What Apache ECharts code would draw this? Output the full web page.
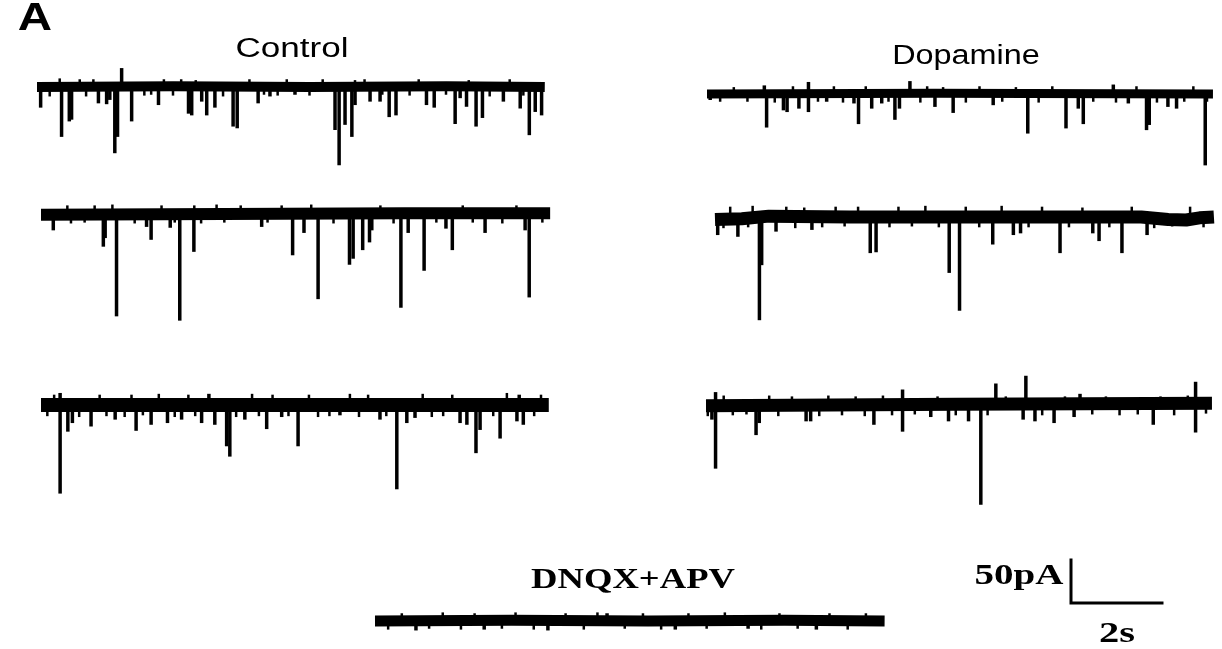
<!DOCTYPE html>
<html><head><meta charset="utf-8">
<script src="https://cdn.jsdelivr.net/npm/echarts@6/dist/echarts.min.js"></script>
<style>html,body{margin:0;padding:0;background:#fff}#c{width:1222px;height:649px}</style>
</head><body><div id="c"></div>
<script>
// ---- DATA: events are [time (s), peak current (pA) relative to baseline] ----
const control1Events = [[0.08,-24],[0.54,-58],[0.71,-40],[0.76,-38],[1.35,-19],[1.53,-20],[1.60,-15],[1.71,-77],[1.77,-58],[1.86,22],[2.08,-40],[2.67,-21],[3.33,-31],[3.40,-33],[3.62,-17],[3.73,-33],[3.91,-24],[4.31,-46],[4.40,-48],[4.86,-19],[5.12,-11],[5.67,-9],[6.55,-50],[6.64,-91],[6.77,-44],[6.92,-58],[6.99,-21],[7.32,-17],[7.54,-17],[7.74,-35],[7.89,-33],[8.56,-21],[8.73,-24],[9.19,-43],[9.30,-13],[9.44,-23],[9.65,-46],[9.79,-36],[10.25,-17],[10.62,-25],[10.82,-56],[10.95,-29],[11.09,-33]];
const control2Events = [[0.27,-19],[1.37,-38],[1.41,-28],[1.66,-119],[2.32,-15],[2.42,-30],[2.84,-16],[3.05,-124],[3.36,-44],[4.85,-15],[5.53,-48],[5.78,-22],[6.09,-99],[6.78,-59],[6.86,-52],[7.07,-42],[7.22,-33],[7.27,-19],[7.91,-109],[8.07,-22],[8.42,-66],[8.90,-17],[9.04,-42],[9.76,-22],[10.64,-19],[10.73,-97]];
const control3Events = [[0.42,-103],[0.42,14],[0.59,-31],[0.69,-21],[1.10,-25],[1.63,-17],[2.09,-30],[2.42,-23],[2.78,-21],[3.09,-17],[3.53,-21],[3.69,13],[3.82,-23],[4.08,-48],[4.15,-60],[4.48,-17],[4.96,-28],[5.29,-14],[5.65,-48],[6.57,-12],[7.45,-17],[7.82,-98],[8.04,-21],[8.22,-15],[9.21,-21],[9.36,-23],[9.56,-56],[9.65,-29],[10.09,-39],[10.46,-19],[10.51,12],[10.60,-23]];
const dopamine1Events = [[0.07,-7],[1.26,10],[1.31,-39],[1.68,-19],[1.76,-21],[2.02,-17],[2.23,-21],[2.23,14],[2.63,-9],[3.23,-11],[3.33,-35],[3.62,-17],[3.84,-11],[4.13,-30],[4.23,-17],[4.46,15],[5.01,-15],[5.41,-22],[6.29,-13],[7.05,-46],[7.89,-40],[8.16,-17],[8.27,-35],[8.93,11],[9.26,-11],[9.66,-42],[9.72,-36],[10.13,-15],[10.32,-17],[10.95,-83]];
const dopamine2Events = [[0.06,-21],[0.51,-23],[0.99,-120],[1.04,-56],[1.36,-17],[2.16,-15],[3.46,-42],[3.59,-41],[5.22,-65],[5.45,-109],[6.19,-32],[6.65,-21],[6.81,-19],[7.69,-42],[8.42,-19],[8.56,-28],[9.07,-42],[9.63,-21]];
const dopamine3Events = [[0.13,-17],[0.21,-74],[0.21,15],[1.10,-35],[1.17,-21],[2.20,-19],[2.30,-19],[3.69,-23],[4.32,-31],[4.32,18],[4.94,-14],[5.33,-19],[5.77,-19],[6.04,-116],[6.37,25],[6.97,-17],[7.03,34],[7.23,-19],[7.65,-21],[8.09,-14],[8.22,13],[9.83,-23],[10.76,-32],[10.76,27]];
const dnqxEvents = [[0.9,-11],[2.4,-10],[3.8,-11],[5.1,9],[6.6,-10],[8.2,-9],[9.7,-10]];

// small noise excursions on the baseline: [time (s), pA]
const control1Noise = [[0.29,-11],[0.51,10],[0.95,9],[1.09,-11],[1.25,9],[2.37,-10],[2.52,-9],[2.8,9],[3.0,-10],[3.18,9],[3.5,8],[4.10,-11],[4.68,9],[5.0,-9],[5.30,-10],[5.5,9],[6.0,-10],[6.29,9],[7.0,8],[7.21,9],[7.6,-9],[8.2,-10],[8.4,9],[9.0,-9],[9.5,8],[9.96,-11],[10.4,9],[10.7,-10]];
const control2Noise = [[0.59,10],[0.67,-11],[0.97,-10],[1.19,10],[1.58,11],[2.07,-11],[2.66,10],[2.95,-10],[3.38,10],[3.53,-11],[3.87,11],[4.04,-10],[4.4,10],[4.99,-10],[5.3,10],[5.95,11],[6.44,-11],[7.47,10],[7.76,-11],[8.7,-10],[9.28,10],[9.5,-10],[10.15,-11],[10.46,10],[11.03,-10]];
const control3Noise = [[0.15,-13],[0.3,12],[0.85,-14],[1.3,12],[1.45,-13],[1.85,-14],[2.0,12],[2.25,-12],[2.6,13],[2.95,-14],[3.25,12],[3.4,-13],[4.3,-14],[4.65,13],[4.8,-13],[5.1,12],[5.45,-13],[5.9,12],[6.1,-14],[6.35,-13],[6.8,13],[7.0,-14],[7.2,12],[7.6,-13],[8.4,13],[8.6,-14],[8.85,-13],[9.05,12],[9.95,-13],[10.25,14],[10.85,-13],[11.0,12]];
const dopamine1Noise = [[0.3,-9],[0.6,8],[0.9,-9],[1.5,-10],[1.9,9],[2.45,-9],[2.8,9],[3.0,-10],[3.5,9],[4.0,-9],[4.7,-10],[4.85,9],[5.2,8],[5.7,-10],[6.0,9],[6.5,-9],[6.8,8],[7.3,-10],[7.6,9],[8.5,-9],[9.0,-10],[9.45,9],[9.9,-10],[10.5,-9],[10.7,9],[11.0,-9]];
const dopamine2Noise = [[0.2,-13],[0.35,12],[0.75,-12],[0.85,13],[1.6,12],[1.8,-13],[2.0,11],[2.4,-12],[2.7,12],[2.9,-11],[3.2,12],[3.9,-12],[4.1,12],[4.4,-11],[4.7,13],[5.0,-12],[5.6,12],[5.9,-12],[6.4,13],[7.0,-12],[7.3,12],[7.9,-12],[8.2,11],[8.8,-12],[9.3,12],[9.8,-13],[10.2,-11],[10.6,12],[10.9,-12]];
const dopamine3Noise = [[0.05,-13],[0.4,11],[0.6,-12],[0.9,-11],[1.4,11],[1.6,-13],[1.9,10],[2.5,-13],[2.7,11],[3.0,-12],[3.3,10],[3.5,-13],[3.9,11],[4.1,-12],[4.6,-11],[5.1,10],[5.5,-12],[6.2,-12],[6.6,10],[7.4,-12],[7.9,10],[8.5,-11],[8.8,10],[9.1,-12],[9.5,-11],[10.0,10],[10.3,-12],[10.6,11],[11.0,-10]];
const dnqxNoise = [[0.3,-10],[0.6,9],[1.2,-9],[1.5,10],[1.9,-10],[2.2,9],[2.8,-9],[3.1,10],[3.5,-10],[4.2,9],[4.6,-10],[4.9,10],[5.5,-9],[5.9,9],[6.3,-10],[6.9,9],[7.3,-9],[7.7,10],[8.5,-10],[8.9,9],[9.3,-9],[10.0,9],[10.4,-10],[10.8,9]];

// baselines: [time (s), holding-current drift (pA)]
const control1Baseline = [[0,0],[3,1],[6,0],[9,1],[11.16,0]];
const control2Baseline = [[0,-1],[4,0],[8,1],[11.19,1]];
const control3Baseline = [[0,0],[5,0],[11.16,0]];
const dopamine1Baseline = [[0,0],[5,1],[11.12,0]];
const dopamine2Baseline = [[0,-3],[0.6,-2],[1.2,1],[3,0],[6,0],[9.5,0],[10.1,-3],[10.5,-3.5],[10.8,-1],[11.12,0]];
const dopamine3Baseline = [[0,-1],[5.5,1],[11.12,2]];
const dnqxBaseline = [[0,0],[3,1],[6,0],[9,1],[11.2,0]];

const scaleBar = [[0,50],[0,0],[2,0]]; // 50 pA, 2 s
const titles = ['Control','Dopamine','DNQX+APV'];
const scaleLabels = ['50pA','2s'];

// ---- LAYOUT ----
const PX_PER_S = 45.5, PX_PER_PA = 0.86;
const traces = [
  {ev: control1Events,  nz: control1Noise,  bl: control1Baseline,  x0: 37,  y0: 87,  lw: 10, ymin:-135, ymax:40},
  {ev: control2Events,  nz: control2Noise,  bl: control2Baseline,  x0: 41,  y0: 214, lw: 12, ymin:-135, ymax:40},
  {ev: control3Events,  nz: control3Noise,  bl: control3Baseline,  x0: 41,  y0: 405, lw: 14, ymin:-135, ymax:40},
  {ev: dopamine1Events, nz: dopamine1Noise, bl: dopamine1Baseline, x0: 707, y0: 94,  lw: 9,  ymin:-135, ymax:40},
  {ev: dopamine2Events, nz: dopamine2Noise, bl: dopamine2Baseline, x0: 715, y0: 217, lw: 13, ymin:-135, ymax:40},
  {ev: dopamine3Events, nz: dopamine3Noise, bl: dopamine3Baseline, x0: 706, y0: 405, lw: 13, ymin:-135, ymax:40},
  {ev: dnqxEvents,      nz: dnqxNoise,      bl: dnqxBaseline,      x0: 375, y0: 621, lw: 11, ymin:-25,  ymax:25}
];
const TMAX = 11.3;
const grid = [], xAxis = [], yAxis = [], series = [];
traces.forEach((t, i) => {
  grid.push({left: t.x0, top: t.y0 - t.ymax*PX_PER_PA, width: TMAX*PX_PER_S, height: (t.ymax - t.ymin)*PX_PER_PA});
  xAxis.push({type:'value', gridIndex:i, min:0, max:TMAX, show:false});
  yAxis.push({type:'value', gridIndex:i, min:t.ymin, max:t.ymax, show:false});
  series.push({type:'line', xAxisIndex:i, yAxisIndex:i, data:t.bl, symbol:'none', silent:true,
    lineStyle:{color:'#000', width:t.lw, cap:'butt', join:'round'}, z:2});
  series.push({type:'bar', xAxisIndex:i, yAxisIndex:i, data:t.nz, barWidth:2.5, silent:true,
    itemStyle:{color:'#000'}, z:3});
  series.push({type:'bar', xAxisIndex:i, yAxisIndex:i, data:t.ev, barWidth:3.5, barGap:'-100%', silent:true,
    itemStyle:{color:'#000'}, z:3});
});
// scale bar grid
const si = traces.length;
grid.push({left: 1071 - 0.2*PX_PER_S, top: 603 - 55*PX_PER_PA, width: 2.4*PX_PER_S, height: 60*PX_PER_PA});
xAxis.push({type:'value', gridIndex:si, min:-0.2, max:2.2, show:false});
yAxis.push({type:'value', gridIndex:si, min:-5, max:55, show:false});
series.push({type:'line', xAxisIndex:si, yAxisIndex:si, data:scaleBar, symbol:'none', silent:true,
  lineStyle:{color:'#000', width:3, cap:'square', join:'miter'}});

const chart = echarts.init(document.getElementById('c'), null, {renderer:'canvas'});
chart.setOption({
  animation:false,
  backgroundColor:'#fff',
  grid, xAxis, yAxis, series,
  graphic:[
    {type:'text', x:35, y:20, scaleX:1.25, style:{text:'A', font:'bold 38px "Liberation Sans"', fill:'#000', textAlign:'center', textVerticalAlign:'middle'}},
    {type:'text', x:292, y:50, scaleX:1.3, style:{text:titles[0], font:'27px "Liberation Sans"', fill:'#000', textAlign:'center', textVerticalAlign:'middle'}},
    {type:'text', x:966, y:57, scaleX:1.2, style:{text:titles[1], font:'27px "Liberation Sans"', fill:'#000', textAlign:'center', textVerticalAlign:'middle'}},
    {type:'text', x:633, y:580, scaleX:1.22, style:{text:titles[2], font:'bold 30px "Liberation Serif"', fill:'#000', textAlign:'center', textVerticalAlign:'middle'}},
    {type:'text', x:1019, y:576, scaleX:1.3, style:{text:scaleLabels[0], font:'bold 30px "Liberation Serif"', fill:'#000', textAlign:'center', textVerticalAlign:'middle'}},
    {type:'text', x:1117, y:634, scaleX:1.35, style:{text:scaleLabels[1], font:'bold 30px "Liberation Serif"', fill:'#000', textAlign:'center', textVerticalAlign:'middle'}}
  ]
});
</script>
</body></html>
